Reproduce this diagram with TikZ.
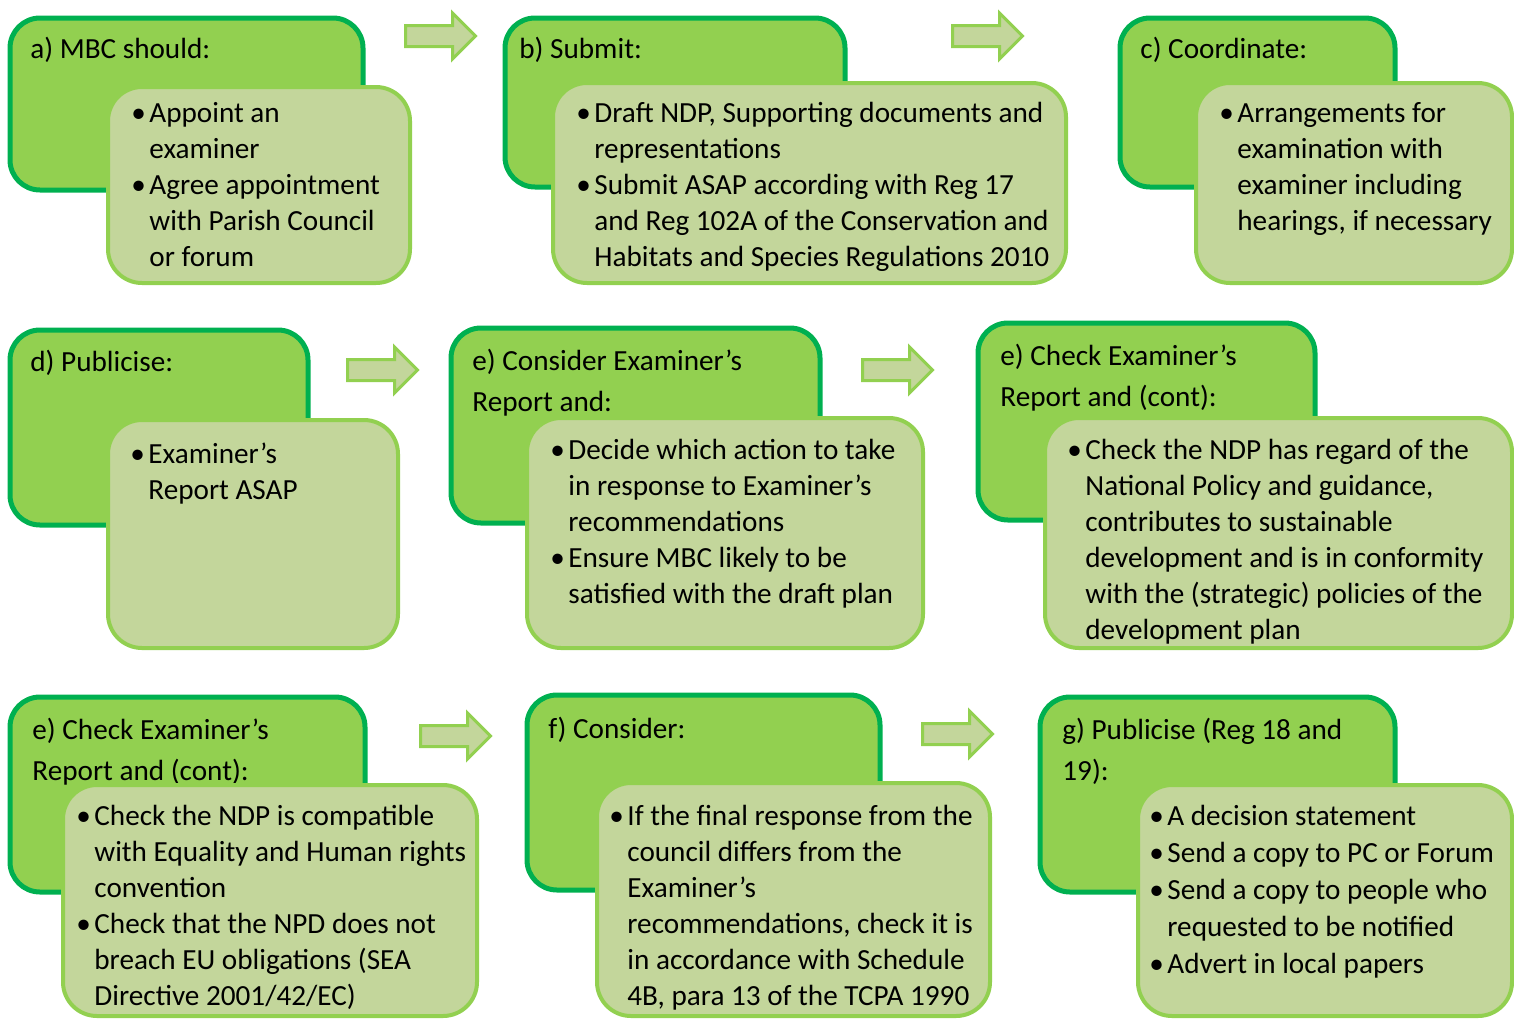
\documentclass[tikz,border=0pt]{standalone}
\usepackage{fontspec}
\setmainfont{Carlito}
\usetikzlibrary{shapes.arrows, fit, positioning}
\definecolor{mbcgreen}{HTML}{92D050}
\definecolor{mbcdark}{HTML}{00B050}
\definecolor{mbcpale}{HTML}{C3D69B}
\newcommand{\boxfont}{\fontsize{14.6}{18}\selectfont}
\newcommand{\headfont}{\fontsize{14.6}{20.5}\selectfont}

\begin{document}
\begin{tikzpicture}[
        x=0.5pt, y=-0.5pt,
        outerbox/.style={draw=mbcdark, fill=mbcgreen, line width=2.5pt, rounded corners=15pt, inner sep=0pt},
        innerbox/.style={draw=mbcgreen, fill=mbcpale, line width=2pt, rounded corners=17pt, inner sep=0pt},
        heading/.style={anchor=base west, inner sep=0pt, font=\headfont},
        bullets/.style={anchor=base west, inner sep=0pt, font=\boxfont},
        flowarrow/.style={single arrow, draw=mbcgreen, fill=mbcpale, line width=1.5pt, anchor=tail,
            minimum height=35pt, minimum width=0pt, inner xsep=1pt, inner ysep=4.5pt,
            single arrow head extend=6.25pt}
    ]
        \useasboundingbox (0,0) rectangle (1514,1018);

        % a) MBC should
        \node[outerbox, fit={(10,18) (363,190)}] (a) {};
        \node[heading] (ah) at (30,58) {a) MBC should:};
        \node[innerbox, fit={(108,87) (410,283)}] (ai) {};
        \node[bullets] (al) at (131,122) {\begin{tabular}[t]{@{}p{9pt}@{}l@{}}
            \textbullet & Appoint an\\
            & examiner\\
            \textbullet & Agree appointment\\
            & with Parish Council\\
            & or forum
        \end{tabular}};

        % b) Submit
        \node[outerbox, fit={(505,18) (845,187)}] (b) {};
        \node[heading] (bh) at (519,58) {b) Submit:};
        \node[innerbox, fit={(553,83) (1066,283)}] (bi) {};
        \node[bullets] (bl) at (576,122) {\begin{tabular}[t]{@{}p{9pt}@{}l@{}}
            \textbullet & Draft NDP, Supporting documents and\\
            & representations\\
            \textbullet & Submit ASAP according with Reg 17\\
            & and Reg 102A of the Conservation and\\
            & Habitats and Species Regulations 2010
        \end{tabular}};

        % c) Coordinate
        \node[outerbox, fit={(1120,18) (1395,187)}] (c) {};
        \node[heading] (ch) at (1140,58) {c) Coordinate:};
        \node[innerbox, fit={(1196,83) (1512,283)}] (ci) {};
        \node[bullets] (cl) at (1219,122) {\begin{tabular}[t]{@{}p{9pt}@{}l@{}}
            \textbullet & Arrangements for\\
            & examination with\\
            & examiner including\\
            & hearings, if necessary
        \end{tabular}};

        % d) Publicise
        \node[outerbox, fit={(10,330) (308,525)}] (d) {};
        \node[heading] (dh) at (30,371) {d) Publicise:};
        \node[innerbox, fit={(108,420) (398,648)}] (di) {};
        \node[bullets] (dl) at (130,463) {\begin{tabular}[t]{@{}p{9pt}@{}l@{}}
            \textbullet & Examiner's\\
            & Report ASAP
        \end{tabular}};

        % e) Consider
        \node[outerbox, fit={(451,328) (820,523)}] (e) {};
        \node[heading] (eh) at (472,370) {\begin{tabular}[t]{@{}l@{}}
            e) Consider Examiner's\\
            Report and:
        \end{tabular}};
        \node[innerbox, fit={(527,418) (923,648)}] (ei) {};
        \node[bullets] (el) at (550,459) {\begin{tabular}[t]{@{}p{9pt}@{}l@{}}
            \textbullet & Decide which action to take\\
            & in response to Examiner's\\
            & recommendations\\
            \textbullet & Ensure MBC likely to be\\
            & satisfied with the draft plan
        \end{tabular}};

        % e) Check (cont)
        \node[outerbox, fit={(978,323) (1315,520)}] (e2) {};
        \node[heading] (e2h) at (1000,365) {\begin{tabular}[t]{@{}l@{}}
            e) Check Examiner's\\
            Report and (cont):
        \end{tabular}};
        \node[innerbox, fit={(1045,418) (1512,648)}] (e2i) {};
        \node[bullets] (e2l) at (1067,459) {\begin{tabular}[t]{@{}p{9pt}@{}l@{}}
            \textbullet & Check the NDP has regard of the\\
            & National Policy and guidance,\\
            & contributes to sustainable\\
            & development and is in conformity\\
            & with the (strategic) policies of the\\
            & development plan
        \end{tabular}};

        % e) Check (cont) 2
        \node[outerbox, fit={(10,697) (365,892)}] (e3) {};
        \node[heading] (e3h) at (32,739) {\begin{tabular}[t]{@{}l@{}}
            e) Check Examiner's\\
            Report and (cont):
        \end{tabular}};
        \node[innerbox, fit={(63,785) (477,1016)}] (e3i) {};
        \node[bullets] (e3l) at (76,825) {\begin{tabular}[t]{@{}p{9pt}@{}l@{}}
            \textbullet & Check the NDP is compatible\\
            & with Equality and Human rights\\
            & convention\\
            \textbullet & Check that the NPD does not\\
            & breach EU obligations (SEA\\
            & Directive 2001/42/EC)
        \end{tabular}};

        % f) Consider
        \node[outerbox, fit={(527,695) (880,890)}] (f) {};
        \node[heading] (fh) at (548,738) {f) Consider:};
        \node[innerbox, fit={(597,783) (990,1016)}] (fi) {};
        \node[bullets] (fl) at (609,825) {\begin{tabular}[t]{@{}p{9pt}@{}l@{}}
            \textbullet & If the final response from the\\
            & council differs from the\\
            & Examiner's\\
            & recommendations, check it is\\
            & in accordance with Schedule\\
            & 4B, para 13 of the TCPA 1990
        \end{tabular}};

        % g) Publicise
        \node[outerbox, fit={(1040,697) (1395,892)}] (g) {};
        \node[heading] (gh) at (1062,739) {\begin{tabular}[t]{@{}l@{}}
            g) Publicise (Reg 18 and\\
            19):
        \end{tabular}};
        \node[innerbox, fit={(1138,785) (1512,1016)}] (gi) {};
        \node[bullets] (gl) at (1149,825) {\renewcommand{\arraystretch}{1.03}\begin{tabular}[t]{@{}p{9pt}@{}l@{}}
            \textbullet & A decision statement\\
            \textbullet & Send a copy to PC or Forum\\
            \textbullet & Send a copy to people who\\
            & requested to be notified\\
            \textbullet & Advert in local papers
        \end{tabular}};

        % Arrows
        \node[flowarrow] (ar1) at (404,36) {};
        \node[flowarrow] (ar2) at (951,36) {};
        \node[flowarrow] (ar3) at (346,370) {};
        \node[flowarrow] (ar4) at (861,370) {};
        \node[flowarrow] (ar5) at (419,736) {};
        \node[flowarrow] (ar6) at (921,734) {};
    \end{tikzpicture}
\end{document}
